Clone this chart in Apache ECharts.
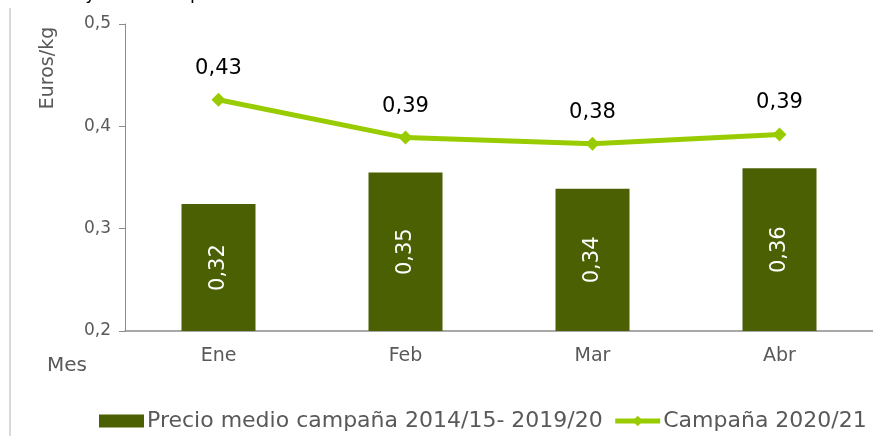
<!DOCTYPE html>
<html>
<head>
<meta charset="utf-8">
<script src="https://cdn.jsdelivr.net/npm/echarts@6/dist/echarts.min.js"></script>
<style>
  html, body { margin: 0; padding: 0; background: #fff; }
  #chart { width: 873px; height: 436px; }
</style>
</head>
<body>
<div id="chart"></div>
<script>
// datos del gráfico
const meses = ['Ene', 'Feb', 'Mar', 'Abr'];
const precioMedio = [0.324, 0.355, 0.339, 0.359];   // campaña 2014/15 - 2019/20
const campana2021 = [0.426, 0.389, 0.383, 0.392];   // campaña 2020/21
const ejeY = { min: 0.2, max: 0.5, interval: 0.1 };

const gris = '#595959';
const fuente = 'DejaVu Sans';
const coma = (v, d) => v.toFixed(d).replace('.', ',');

const chart = echarts.init(document.getElementById('chart'));

const option = {
  animation: false,
  textStyle: { fontFamily: fuente },
  grid: { left: 125, top: 24, width: 752, height: 307 },
  legend: {
    left: 94,
    top: 405,
    width: 820,
    itemWidth: 45,
    itemHeight: 13,
    itemGap: 10,
    textStyle: { color: gris, fontSize: 22, fontFamily: fuente, padding: [0, 0, 0, -2] },
    data: [
      { name: 'Precio medio campaña 2014/15- 2019/20', icon: 'rect' },
      { name: 'Campaña 2020/21', lineStyle: { width: 5 } }
    ]
  },
  graphic: [
    { type: 'rect', shape: { x: 9, y: 8, width: 2, height: 430 }, style: { fill: '#d9d9d9' } },
    { type: 'text', left: 16, top: -15, style: { text: 'Medias y de la campaña', fill: '#000', font: '18px ' + fuente } },
    { type: 'text', x: 48, y: 68, rotation: Math.PI / 2,
      style: { text: 'Euros/kg', fill: gris, font: '19px ' + fuente, align: 'center', verticalAlign: 'middle' } },
    { type: 'text', x: 47, y: 366,
      style: { text: 'Mes', fill: gris, font: '20px ' + fuente, verticalAlign: 'middle' } }
  ],
  xAxis: {
    type: 'category',
    data: meses,
    axisTick: { show: false },
    axisLine: { lineStyle: { color: '#8c8c8c', width: 1.5 } },
    axisLabel: { color: gris, fontSize: 19, margin: 16 }
  },
  yAxis: {
    type: 'value',
    min: ejeY.min,
    max: ejeY.max,
    interval: ejeY.interval,
    splitLine: { show: false },
    axisLine: { show: true, lineStyle: { color: '#8c8c8c' } },
    axisTick: { show: true, length: 6, lineStyle: { color: '#8c8c8c' } },
    axisLabel: { color: gris, fontSize: 17, margin: 14, formatter: v => coma(v, 1) }
  },
  series: [
    {
      name: 'Precio medio campaña 2014/15- 2019/20',
      type: 'bar',
      data: precioMedio,
      barWidth: 74,
      itemStyle: { color: '#4b5f03' },
      label: {
        show: true,
        position: 'inside',
        rotate: 90,
        align: 'center',
        verticalAlign: 'middle',
        color: '#fff',
        fontSize: 21,
        formatter: p => coma(p.value, 2)
      }
    },
    {
      name: 'Campaña 2020/21',
      type: 'line',
      data: campana2021,
      symbol: 'diamond',
      symbolSize: [14, 14],
      lineStyle: { color: '#99cc00', width: 5 },
      itemStyle: { color: '#99cc00' },
      label: {
        show: true,
        position: 'top',
        distance: 14,
        color: '#000',
        fontSize: 21,
        formatter: p => coma(p.value, 2)
      }
    }
  ]
};

chart.setOption(option);
</script>
</body>
</html>
